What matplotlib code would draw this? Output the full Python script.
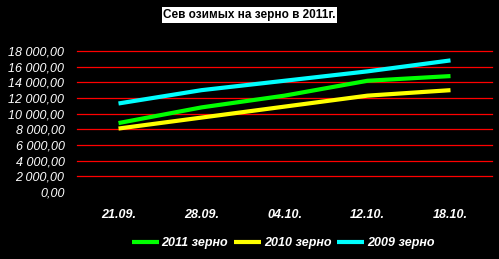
import matplotlib.pyplot as plt

dates = ['21.09.', '28.09.', '04.10.', '12.10.', '18.10.']
s2011 = [8800, 10800, 12300, 14200, 14800]
s2010 = [8100, 9500, 10900, 12300, 13000]
s2009 = [11300, 13000, 14200, 15400, 16800]

plt.rcParams['font.family'] = ['Liberation Sans', 'DejaVu Sans']

fig = plt.figure(figsize=(4.99, 2.59), dpi=100, facecolor='black')
ax = fig.add_axes([77 / 499, 1 - 192 / 259, 415 / 499, 141 / 259])
ax.set_facecolor('black')

x = list(range(len(dates)))
ax.plot(x, s2011, color='#00ff00', lw=3, label='2011 зерно', solid_capstyle='butt')
ax.plot(x, s2010, color='#ffff00', lw=3, label='2010 зерно', solid_capstyle='butt')
ax.plot(x, s2009, color='#00ffff', lw=3, label='2009 зерно', solid_capstyle='butt')

ax.set_xlim(-0.5, len(dates) - 0.5)
ax.set_ylim(0, 18000)
ax.set_yticks(range(0, 18001, 2000))
ax.set_yticklabels([f'{v:,.2f}'.replace(',', ' ').replace('.', ',') for v in range(0, 18001, 2000)],
                   fontsize=9, style='italic', color='white')
ax.set_xticks(x)
ax.set_xticklabels(dates, fontsize=9, style='italic', weight='bold', color='white')
ax.tick_params(length=0, pad=9)
ax.tick_params(axis='x', pad=12)
for v in range(2000, 18001, 2000):
    ax.axhline(v, color='#ff0000', lw=0.9, clip_on=False, zorder=0)
for sp in ax.spines.values():
    sp.set_visible(False)

fig.text(0.5, 1 - 15 / 259, 'Сев озимых на зерно в 2011г.', ha='center', va='center',
         fontsize=8.5, weight='bold', color='black',
         bbox=dict(facecolor='white', edgecolor='none', pad=1.2))

leg = fig.legend(loc='center', bbox_to_anchor=(283 / 499, 1 - 243 / 259), ncol=3, frameon=False,
                 prop={'size': 9, 'weight': 'bold', 'style': 'italic'},
                 handlelength=2.2, handletextpad=0.2, columnspacing=0.45)
for t in leg.get_texts():
    t.set_color('white')

fig.savefig('out.png', dpi=100, facecolor='black')
